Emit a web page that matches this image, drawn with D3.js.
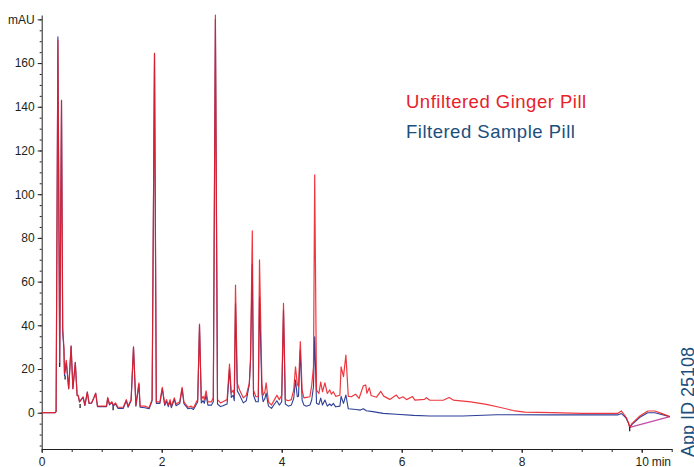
<!DOCTYPE html>
<html>
<head>
<meta charset="utf-8">
<script src="https://cdn.jsdelivr.net/npm/d3@7"></script>
<style>
  body { margin: 0; background: #fff; }
  svg { display: block; font-family: "Liberation Sans", Arial, sans-serif; }
  .axis text { font-size: 12px; fill: #231f20; }
  .axis path, .axis line { stroke: #231f20; }
</style>
</head>
<body>
<div id="chart"></div>
<script>
// chromatogram: [time (min), absorbance (mAU)]
let unfiltered = [
  [0,0],[0.22,0],[0.24,0.5],[0.27,170.5],[0.30,22.7],[0.33,143],[0.35,38.7],[0.37,30],[0.38,18],[0.41,24],
  [0.45,11],[0.49,30.5],[0.52,11],[0.56,23],[0.59,8],[0.61,8],[0.63,5],[0.69,7.3],[0.72,3.5],[0.76,9.6],
  [0.79,4.4],[0.83,4.5],[0.87,7],[0.9,9],[0.93,3],[1.08,3],[1.1,7],[1.13,4],[1.17,5],[1.19,3.5],
  [1.23,4.5],[1.27,2.5],[1.36,2.5],[1.41,6],[1.44,3],[1.49,6],[1.53,30.2],[1.57,3.5],[1.62,13.7],[1.64,3],
  [1.72,3],[1.79,2.3],[1.84,6],[1.88,164.5],[1.91,5],[1.97,5],[2.01,11.6],[2.05,4],[2.08,6],[2.11,3.5],
  [2.14,6],[2.16,3],[2.21,6.8],[2.24,4],[2.3,5],[2.34,11.6],[2.37,5],[2.44,2.5],[2.49,3],[2.53,2.3],
  [2.58,5],[2.6,6],[2.63,40.6],[2.66,6],[2.69,7.5],[2.71,6],[2.74,10],[2.77,5],[2.83,5],[2.86,6.8],
  [2.895,182],[2.93,6],[2.98,4.5],[3.02,5],[3.09,6],[3.13,22.3],[3.16,9],[3.19,10.3],[3.21,8],[3.23,58.4],
  [3.26,13.4],[3.3,10.3],[3.36,6.8],[3.41,8],[3.46,13.4],[3.48,24],[3.51,83.2],[3.53,10.3],[3.57,7.3],[3.61,7.3],
  [3.63,70],[3.67,13.4],[3.69,8],[3.72,9.6],[3.74,13.7],[3.78,5],[3.83,3.5],[3.88,6],[3.92,8],[3.96,6],
  [4.0,8],[4.03,50],[4.06,6],[4.11,5.5],[4.16,6],[4.2,10.3],[4.23,21],[4.26,13],[4.28,12],[4.31,32.5],
  [4.34,10.3],[4.37,6.8],[4.41,7],[4.47,7.3],[4.5,12.5],[4.53,21],[4.55,108.8],[4.58,10.3],[4.62,8.8],[4.65,14],
  [4.68,9.6],[4.72,13.7],[4.76,8.8],[4.8,10.4],[4.83,8.5],[4.86,9.6],[4.9,7.5],[4.97,8],[4.99,21],[5.03,16.5],
  [5.07,26.4],[5.11,7.5],[5.16,7.3],[5.23,8.5],[5.29,6.6],[5.36,12.3],[5.4,12.7],[5.42,8.9],[5.46,11.4],[5.49,7.9],
  [5.58,7.1],[5.65,9.8],[5.7,7.6],[5.8,6.1],[5.91,8.1],[5.96,6.5],[6.02,7.3],[6.08,6],[6.18,7.4],[6.22,5.8],
  [6.38,6.1],[6.41,6.9],[6.47,5.7],[6.7,5.8],[6.79,7],[6.86,5.8],[7.15,5],[7.41,3.8],[7.63,2.5],[7.86,1],
  [8.05,0.3],[8.5,0],[9.0,-0.3],[9.6,-0.3],[9.66,0.8],[9.7,-0.6],[9.74,-2.1],[9.78,-4.6],[9.8,-6.7],[9.84,-4.9],
  [9.97,-1.5],[10.1,0.8],[10.22,0.8],[10.33,-0.3],[10.47,-1.8]
];

let filtered = [
  [0,0],[0.22,0],[0.24,0.5],[0.27,172],[0.30,22.7],[0.33,143],[0.35,37],[0.37,29],[0.38,17],[0.41,23],
  [0.45,11],[0.49,30.5],[0.52,11],[0.56,23],[0.59,8],[0.61,7.5],[0.63,5],[0.69,7],[0.72,3.3],[0.76,9.3],
  [0.79,4.2],[0.83,4.3],[0.87,6.8],[0.9,8.8],[0.93,2.8],[1.08,2.8],[1.1,6.6],[1.13,3.6],[1.17,4.6],[1.19,3],
  [1.23,4],[1.27,2],[1.36,2],[1.41,5.5],[1.44,2.5],[1.49,5.5],[1.53,30],[1.57,3],[1.62,13],[1.64,2.5],
  [1.72,2.3],[1.79,1.8],[1.84,5.5],[1.88,164.5],[1.91,4.3],[1.97,4.3],[2.01,11],[2.05,3.3],[2.08,5.2],[2.11,2.8],
  [2.14,5.2],[2.16,2.3],[2.21,6],[2.24,3.2],[2.3,4.2],[2.34,11],[2.37,4.2],[2.44,1.8],[2.49,2.2],[2.53,1.5],
  [2.58,4],[2.6,5],[2.63,40],[2.66,4.5],[2.69,5.5],[2.71,4.3],[2.74,8],[2.77,3.5],[2.83,3.5],[2.86,5],
  [2.895,180],[2.93,4],[2.98,2.8],[3.02,3.2],[3.09,4],[3.13,20],[3.16,7],[3.19,8],[3.21,5.5],[3.23,50],
  [3.26,10],[3.3,8],[3.36,4.5],[3.41,5.5],[3.46,13],[3.48,24],[3.51,68],[3.53,8],[3.57,5],[3.61,5],
  [3.63,53],[3.67,9],[3.69,5],[3.72,6.5],[3.74,9],[3.78,3],[3.83,2],[3.88,4],[3.92,5.5],[3.96,3.5],
  [4.0,5],[4.03,47],[4.06,4],[4.11,3],[4.16,3.5],[4.2,6.5],[4.23,15],[4.26,7.3],[4.28,7.5],[4.31,28.7],
  [4.34,5.8],[4.37,3.5],[4.41,3],[4.47,3.5],[4.5,5.8],[4.53,12],[4.55,34.8],[4.58,4.3],[4.62,3.8],[4.65,6.7],
  [4.68,3.5],[4.72,5.8],[4.76,3],[4.8,4],[4.83,3.2],[4.86,4.3],[4.9,2.7],[4.97,3],[4.99,7.5],[5.03,4.3],
  [5.07,8.1],[5.11,1.8],[5.24,1.5],[5.31,1.2],[5.36,1.8],[5.41,0.9],[5.52,0.5],[5.69,-0.3],[5.91,-0.7],[6.2,-1.2],
  [6.47,-1.5],[7.02,-1.5],[7.58,-0.9],[8.5,-1],[9.6,-1],[9.66,-0.4],[9.7,-1.3],[9.74,-2.5],[9.78,-4.8],[9.8,-6.7],
  [9.84,-5.3],[9.97,-2.1],[10.1,0],[10.22,0],[10.33,-0.8],[10.47,-1.8]
];

// integration baseline drawn at the end of the run
let baseline = [[9.8,-6.7],[10.47,-1.8]];
// little black integration marks
let marks = [[0.30,22.7],[0.39,17],[0.64,4],[1.19,3],[9.8,-6.7]];

let legendLabels = ["Unfiltered Ginger Pill", "Filtered Sample Pill"];
let xTickLabels = [0, 2, 4, 6, 8, 10];
let yTickLabels = [0, 20, 40, 60, 80, 100, 120, 140, 160, 180];

let w = 694, h = 467;

let viz = d3.select("#chart")
  .append("svg")
    .attr("width", w)
    .attr("height", h)
;

let xScale = d3.scaleLinear().domain([0, 10.5]).range([41.7, 671.7]);
let yScale = d3.scaleLinear().domain([-16.6, 182]).range([449, 15]);

// y axis: minor ticks every 5, labelled ticks every 20
let yMinor = d3.axisLeft(yScale)
  .tickValues(d3.range(-15, 181, 5))
  .tickSize(2)
  .tickSizeOuter(0)
  .tickFormat("");
viz.append("g")
  .attr("class", "axis")
  .attr("transform", "translate(" + xScale(0) + ",0)")
  .call(yMinor);

let yAxis = d3.axisLeft(yScale)
  .tickValues(yTickLabels)
  .tickSize(4)
  .tickSizeOuter(0)
  .tickPadding(3)
  .tickFormat(function(d){ return d == 180 ? "mAU" : d; });
let yAxisGroup = viz.append("g")
  .attr("class", "axis")
  .attr("transform", "translate(" + xScale(0) + ",0)")
  .call(yAxis);
yAxisGroup.select(".domain").remove();

// x axis: minor ticks every half minute
let xMinor = d3.axisBottom(xScale)
  .tickValues(d3.range(0, 10.51, 0.5))
  .tickSize(3)
  .tickSizeOuter(0)
  .tickFormat("");
viz.append("g")
  .attr("class", "axis")
  .attr("transform", "translate(0," + yScale(-16.6) + ")")
  .call(xMinor);

let xAxis = d3.axisBottom(xScale)
  .tickValues(xTickLabels)
  .tickSize(4)
  .tickSizeOuter(0)
  .tickPadding(4)
  .tickFormat(d3.format("d"));
let xAxisGroup = viz.append("g")
  .attr("class", "axis")
  .attr("transform", "translate(0," + yScale(-16.6) + ")")
  .call(xAxis);
xAxisGroup.select(".domain").remove();

xAxisGroup.append("text")
  .attr("x", xScale(10) + 10)
  .attr("y", 8)
  .attr("dy", "0.71em")
  .attr("text-anchor", "start")
  .text("min");

let line = d3.line()
  .x(function(d){ return xScale(d[0]); })
  .y(function(d){ return yScale(d[1]); });

viz.append("path")
  .datum(filtered)
  .attr("d", line)
  .attr("fill", "none")
  .attr("stroke", "#2e3f97")
  .attr("stroke-width", 1.1)
  .attr("stroke-linejoin", "round");

viz.append("path")
  .datum(baseline)
  .attr("d", line)
  .attr("fill", "none")
  .attr("stroke", "#c24ba6")
  .attr("stroke-width", 1.2);

viz.append("path")
  .datum(unfiltered)
  .attr("d", line)
  .attr("fill", "none")
  .attr("stroke", "#ec1c24")
  .attr("stroke-opacity", 0.88)
  .attr("stroke-width", 1.2)
  .attr("stroke-linejoin", "round");

viz.selectAll(".mark")
  .data(marks)
  .enter()
  .append("line")
    .attr("class", "mark")
    .attr("x1", function(d){ return xScale(d[0]); })
    .attr("x2", function(d){ return xScale(d[0]); })
    .attr("y1", function(d){ return yScale(d[1]); })
    .attr("y2", function(d){ return yScale(d[1]) + 4; })
    .attr("stroke", "#111")
    .attr("stroke-width", 1.2);

// legend
let legendColors = ["#e8212b", "#1c4f7c"];
viz.selectAll(".legend")
  .data(legendLabels)
  .enter()
  .append("text")
    .attr("class", "legend")
    .attr("x", 406)
    .attr("y", function(d, i){ return 107.7 + i * 30.6; })
    .attr("font-size", "18.5px")
    .attr("letter-spacing", "0.5px")
    .attr("fill", function(d, i){ return legendColors[i]; })
    .text(function(d){ return d; });

viz.append("text")
  .attr("transform", "translate(694,457) rotate(-90)")
  .attr("font-size", "18px")
  .attr("fill", "#1c4f7c")
  .text("App ID 25108");
</script>
</body>
</html>
